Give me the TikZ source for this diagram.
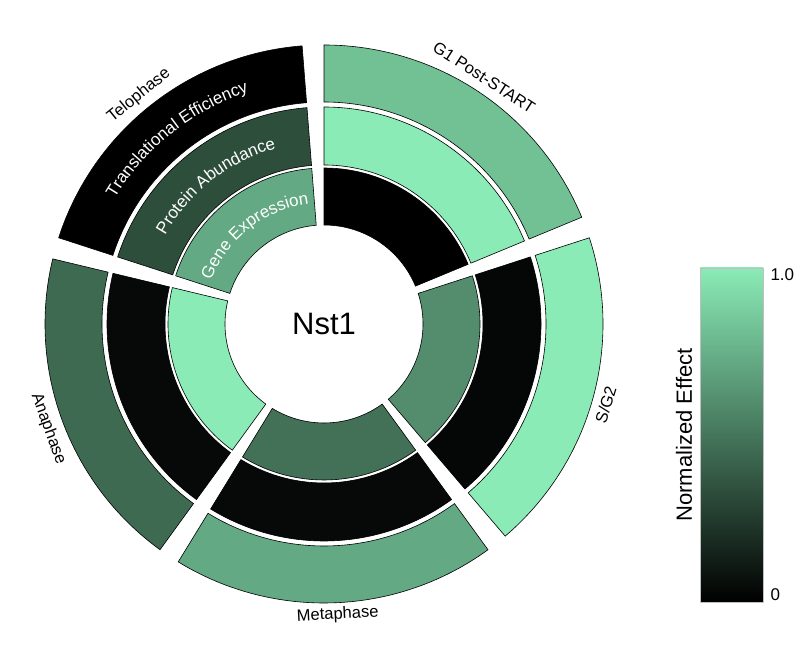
\documentclass[tikz,border=0pt]{standalone}
\usepackage{fontspec}
\setmainfont{Liberation Sans}
\usetikzlibrary{decorations.text}
\definecolor{hi}{RGB}{138,235,182}
\newcommand{\mysect}[5]{\fill[#5,draw=black,line width=0.6pt] (#1:#3pt) arc[start angle=#1,end angle=#2,radius=#3pt] -- (#2:#4pt) arc[start angle=#2,end angle=#1,radius=#4pt] -- cycle;}
\tikzset{phase/.style={font=\fontsize{16.5}{16.5}\selectfont,inner sep=0pt},
ringlab/.style={decorate,decoration={text along path,text align=center,text={|\fontsize{17}{17}\selectfont\color{white}|#1}}}}
\begin{document}
\begin{tikzpicture}[x=1pt,y=1pt]
\useasboundingbox (0,0) rectangle (800,650);
\begin{scope}[shift={(324,326)}]
% G1 Post-START
\mysect{22.5}{90}{99}{156}{black}
\mysect{22.5}{90}{159}{217}{hi}
\mysect{22.5}{90}{222}{279}{hi!82!black}
% S/G2
\mysect{-49.5}{18}{99}{156}{hi!60!black}
\mysect{-49.5}{18}{159}{217}{hi!3!black}
\mysect{-49.5}{18}{222}{279}{hi}
% Metaphase
\mysect{-121.5}{-54}{99}{156}{hi!48!black}
\mysect{-121.5}{-54}{159}{217}{hi!4!black}
\mysect{-121.5}{-54}{222}{279}{hi!72!black}
% Anaphase
\mysect{-193.5}{-126}{99}{156}{hi}
\mysect{-193.5}{-126}{159}{217}{hi!4!black}
\mysect{-193.5}{-126}{222}{279}{hi!45!black}
% Telophase
\mysect{94.5}{162}{99}{156}{hi!72!black}
\mysect{94.5}{162}{159}{217}{hi!33!black}
\mysect{94.5}{162}{222}{279}{black}
% ring labels
\path[ringlab={Gene Expression}] (160:121pt) arc[start angle=160,end angle=96,radius=121pt];
\path[ringlab={Protein Abundance}] (160:182pt) arc[start angle=160,end angle=96,radius=182pt];
\path[ringlab={Translational Efficiency}] (161:244pt) arc[start angle=161,end angle=96,radius=244pt];
\node (nst) at (0,0) {\fontsize{31}{31}\selectfont Nst1};
\node[phase,rotate=-33] (g1) at (57:294pt) {G1 Post-START};
\node[phase,rotate=73] (sg2) at (-16:293pt) {S/G2};
\node[phase,rotate=3] (meta) at (-87.3:291pt) {Metaphase};
\node[phase,rotate=-70] (ana) at (200.8:295pt) {Anaphase};
\node[phase,rotate=39] (telo) at (129:294pt) {Telophase};
\end{scope}
% colorbar
\shade[top color=hi,bottom color=black,draw=black!25,line width=0.4pt] (700,48) rectangle (763,382) node (cb) {};
\node[anchor=west,font=\fontsize{17}{17}\selectfont] (one) at (767,375) {1.0};
\node[anchor=west,font=\fontsize{17}{17}\selectfont] (zero) at (767,55) {0};
\node[rotate=90,font=\fontsize{22}{22}\selectfont] (ne) at (684,215) {Normalized Effect};
\end{tikzpicture}
\end{document}
